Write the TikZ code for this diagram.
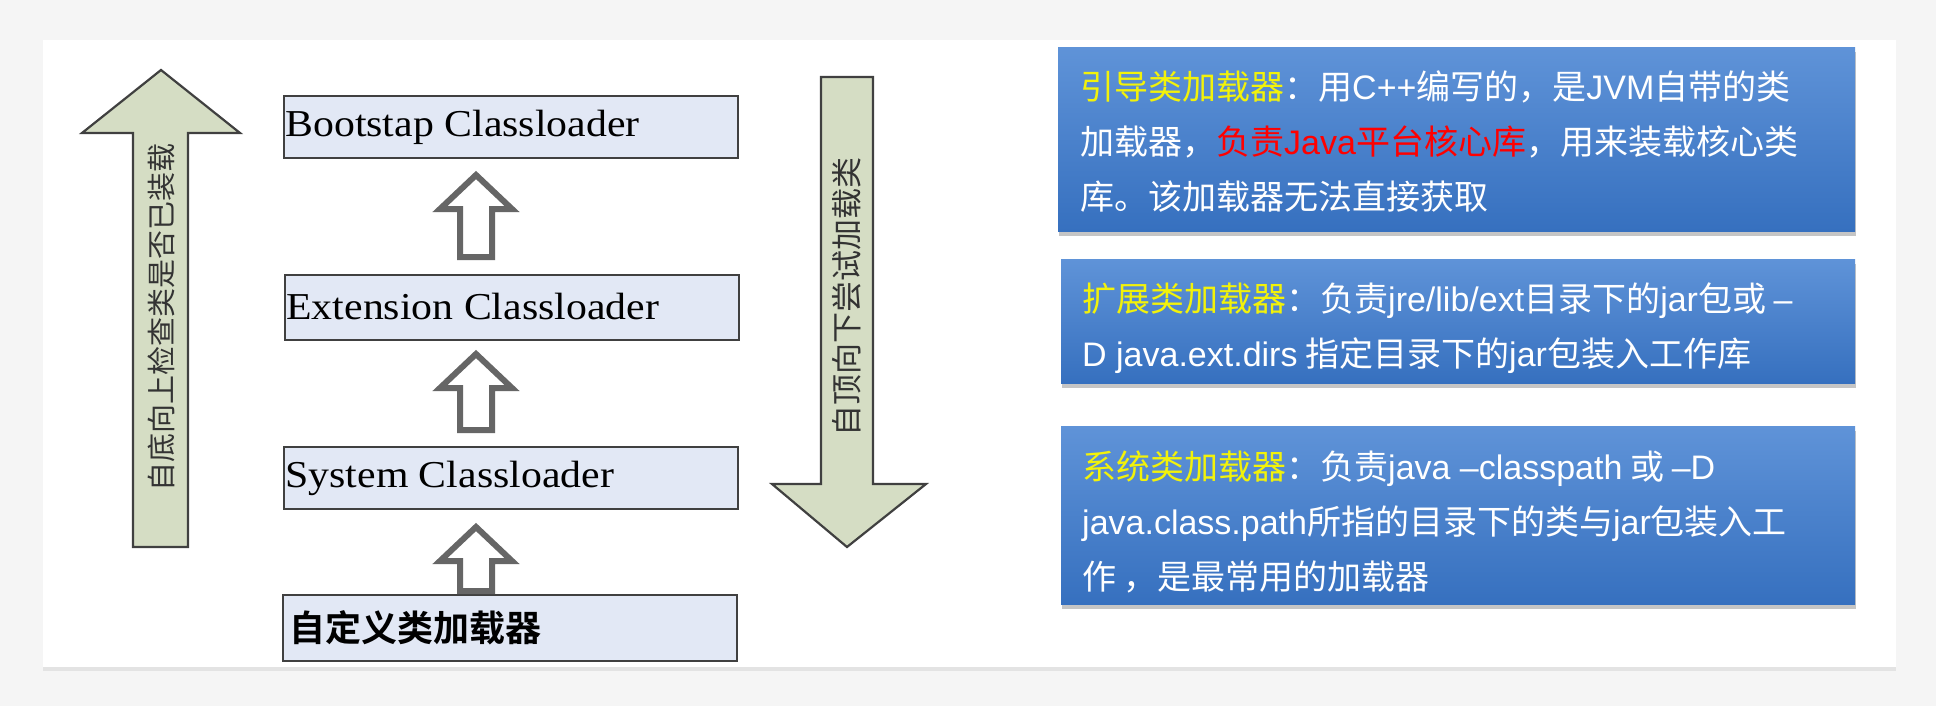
\documentclass[tikz,border=0pt]{standalone}
\usepackage{fontspec}
\setmainfont{Liberation Serif}
\newfontfamily\cjk{Noto Sans CJK SC}[BoldFont={* Bold}]
\newfontfamily\lsans{Liberation Sans}
\usetikzlibrary{shadows}
\definecolor{arrowfill}{HTML}{D5DDC4}
\definecolor{boxfill}{HTML}{E2E8F5}
\definecolor{ptop}{HTML}{5F93D8}
\definecolor{pbot}{HTML}{3670BF}
\definecolor{hl}{HTML}{F2F20A}
\tikzset{
 big/.style={fill=arrowfill,draw=black!75,line width=2.2pt,line join=miter},
 cbox/.style={fill=boxfill,draw=black!75,line width=2pt,minimum width=454pt,minimum height=62pt,inner sep=0pt},
 btxt/.style={anchor=west,font=\fontsize{38}{38}\selectfont,xscale=1.1,inner sep=2pt},
 hollow/.style={fill=white,draw=black!60,line width=6pt,line join=miter},
 panel/.style={top color=ptop,bottom color=pbot,draw=none,drop shadow={shadow xshift=1pt,shadow yshift=-5pt,opacity=0.45},inner sep=0pt},
 ptxt/.style={text=white,font=\cjk\fontsize{34}{55}\selectfont,align=left,anchor=north west,inner sep=0pt},
}
\begin{document}
\begin{tikzpicture}[x=1pt,y=-1pt]
\useasboundingbox (0,0) rectangle (1936,706);
\fill[black!4] (0,0) rectangle (1936,706);
\fill[white,drop shadow={shadow xshift=0pt,shadow yshift=-4pt,opacity=0.15}] (43,40) rectangle (1896,667);
% left up arrow
\draw[big] (133,547) -- (133,133) -- (82,133) -- (161,70) -- (240,133) -- (188,133) -- (188,547) -- cycle;
\node[rotate=90,font=\cjk\fontsize{29}{29}\selectfont,text=black!80] (lt) at (161,317) {自底向上检查类是否已装载};
% right down arrow
\draw[big] (821,77) -- (873,77) -- (873,484) -- (926,484) -- (847,547) -- (772,484) -- (821,484) -- cycle;
\node[rotate=90,font=\cjk\fontsize{31}{31}\selectfont,text=black!80] (rt) at (847,297) {自顶向下尝试加载类};
% boxes
\node[cbox] (b1) at (511,127) {};
\node[btxt] at (b1.west) {Bootstap Classloader};
\node[cbox,minimum height=65pt] (b2) at (512,307) {};
\node[btxt] at (b2.west) {Extension Classloader};
\node[cbox] (b3) at (511,478) {};
\node[btxt] at (b3.west) {System Classloader};
\node[cbox,minimum height=66pt] (b4) at (510,628) {};
\node[anchor=west,font=\cjk\bfseries\fontsize{36}{36}\selectfont,xshift=4pt] at (b4.west) {自定义类加载器};
% hollow arrows
\foreach \t/\b in {175/257, 354/430, 527/591}{
 \draw[hollow] (460,\b) -- (460,{\t+34}) -- (440,{\t+34}) -- (476,\t) -- (512,{\t+34}) -- (492,{\t+34}) -- (492,\b) -- cycle;
}
% panels
\node[panel,minimum width=797pt,minimum height=184pt,anchor=north west] (p1) at (1058,47) {};
\node[ptxt] at (1080,71) {\textcolor{hl}{引导类加载器}：用{\lsans C++}编写的，是{\lsans JVM}自带的类\\加载器，\textcolor{red}{负责{\lsans Java}平台核心库}，用来装载核心类\\库。该加载器无法直接获取};
\node[panel,minimum width=794pt,minimum height=124pt,anchor=north west] (p2) at (1061,259) {};
\node[ptxt] at (1082,283) {\textcolor{hl}{扩展类加载器}：负责{\lsans jre/lib/ext}目录下的{\lsans jar}包或 {\lsans –}\\{\lsans D java.ext.dirs} 指定目录下的{\lsans jar}包装入工作库};
\node[panel,minimum width=794pt,minimum height=178pt,anchor=north west] (p3) at (1061,426) {};
\node[ptxt] at (1082,451) {\textcolor{hl}{系统类加载器}：负责{\lsans java –classpath} 或 {\lsans –D}\\{\lsans java.class.path}所指的目录下的类与{\lsans jar}包装入工\\作 ，是最常用的加载器};
\end{tikzpicture}
\end{document}
